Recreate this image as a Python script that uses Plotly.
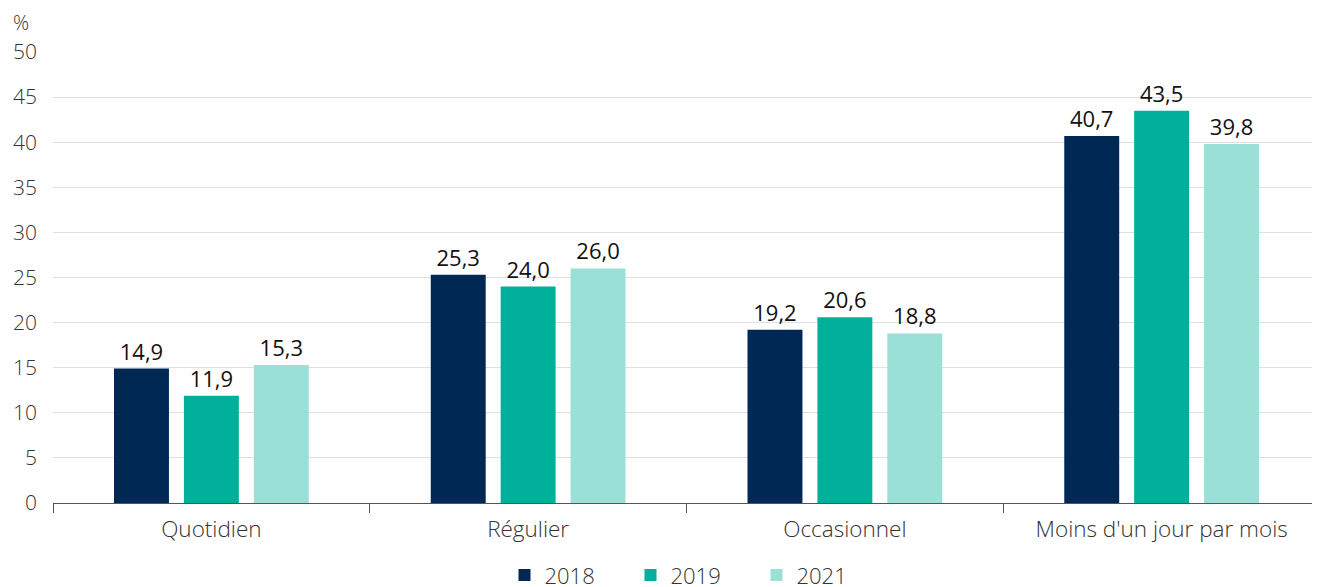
import plotly.graph_objects as go

categories = ["Quotidien", "Régulier", "Occasionnel", "Moins d'un jour par mois"]
years = ["2018", "2019", "2021"]
v2018 = [14.9, 25.3, 19.2, 40.7]
v2019 = [11.9, 24.0, 20.6, 43.5]
v2021 = [15.3, 26.0, 18.8, 39.8]
colors = ["#002855", "#00b09b", "#9be0d7"]

fig = go.Figure()
for name, vals, col in zip(years, [v2018, v2019, v2021], colors):
    fig.add_trace(go.Bar(
        x=categories, y=vals, name=name, marker=dict(color=col, line=dict(width=0)),
        text=[f"{v:.1f}".replace(".", ",") for v in vals],
        textposition="outside", cliponaxis=False,
        textfont=dict(family="Open Sans", size=22, color="#111111", weight=400),
    ))

fig.update_layout(
    width=1312, height=579,
    margin=dict(l=45, r=0, t=44, b=84, autoexpand=False),
    paper_bgcolor="white", plot_bgcolor="white",
    barmode="group", bargap=0.338, bargroupgap=0.214,
    font=dict(family="Open Sans", size=21, color="#333333", weight=300),
    legend=dict(orientation="h", x=0.5 + 7/1267, xanchor="center", y=-0.16, yanchor="middle",
                font=dict(size=22, color="#333333", weight=300), traceorder="normal",
                itemwidth=30, entrywidth=81),
    xaxis=dict(showline=True, linecolor="#555555", linewidth=1, ticks="outside",
               tickson="boundaries", ticklen=9, tickcolor="#555555", automargin=False,
               ticklabelstandoff=6,
               tickfont=dict(size=22.5, color="#333333", weight=300)),
    yaxis=dict(range=[0, 50], dtick=5, showgrid=True, gridcolor="#e0e0e0", gridwidth=1,
               zeroline=False, ticks="", ticklabelstandoff=15, automargin=False,
               tickfont=dict(size=21, color="#333333", weight=300)),
    annotations=[dict(text="%", xref="paper", yref="paper", x=-42/1267, y=1 + 30/451,
                      xanchor="left", yanchor="middle", showarrow=False,
                      font=dict(size=20, color="#333333", weight=300))],
)

fig.write_html("out.html")
